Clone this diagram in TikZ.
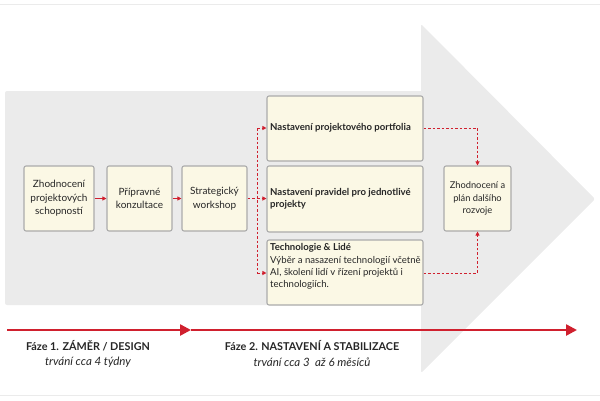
\documentclass[tikz,border=0pt]{standalone}
\usepackage{fontspec}
\setmainfont{Lato}
\usetikzlibrary{arrows.meta}
\definecolor{bggray}{HTML}{EBEBEB}
\definecolor{boxfill}{HTML}{FBF8E5}
\definecolor{boxline}{HTML}{ABABAB}
\definecolor{myred}{HTML}{D0202E}
\definecolor{txt}{HTML}{262626}
\begin{document}
\begin{tikzpicture}[x=1pt,y=-1pt,
  box/.style={draw=boxline, fill=boxfill, line width=1.1pt, rounded corners=2pt, inner sep=0pt, text=txt},
  smallbox/.style={box, minimum width=65pt, minimum height=65pt, align=center, font=\fontsize{10}{13.5}\selectfont},
  widebox/.style={box, minimum width=156pt, minimum height=65pt},
  btext/.style={text=txt, align=left, inner sep=0pt, font=\fontsize{9.6}{12.2}\selectfont},
  solidarrow/.style={draw=myred, line width=1pt, -{Triangle[length=4pt,width=4pt]}},
  dashline/.style={draw=myred, line width=1pt, dash pattern=on 2.5pt off 2pt},
  dasharrow/.style={dashline, -{Triangle[length=4pt,width=4pt]}},
  bigarrow/.style={draw=myred, line width=2.5pt, -{Triangle[length=11pt,width=11pt]}},
  phase/.style={text=txt, inner sep=0pt, font=\fontsize{10.8}{12}\selectfont\bfseries},
  dur/.style={text=txt, inner sep=0pt, font=\fontsize{11.5}{12}\selectfont\itshape}]
\useasboundingbox (0,0) rectangle (600,400);
% frame lines
\draw[black!8, line width=1pt] (0,4) -- (600,4);
\draw[black!8, line width=1pt] (0,395) -- (600,395);
% background arrow
\fill[bggray, rounded corners=2pt] (5,91) rectangle (423,305);
\fill[bggray, rounded corners=2pt] (421,24) -- (595,199) -- (421,373) -- cycle;
% left boxes
\node[smallbox, minimum width=70pt] (b1) at (59,198.5) {Zhodnocení\\projektových\\schopností};
\node[smallbox] (b2) at (139.5,198.5) {Přípravné\\konzultace};
\node[smallbox] (b3) at (214.5,198.5) {Strategický\\workshop};
% wide boxes
\node[widebox] (p1) at (345,128.5) {};
\node[btext, anchor=west] (t1) at (270,128) {\bfseries Nastavení projektového portfolia};
\node[widebox, minimum height=66pt] (p2) at (345,199) {};
\node[btext, anchor=west] (t2) at (270,199) {\bfseries Nastavení pravidel pro jednotlivé\\\bfseries projekty};
\node[widebox] (p3) at (345,272.5) {};
\node[btext, anchor=north west] (t3) at (270,243.5) {\textbf{Technologie \& Lidé}\\Výběr a nasazení technologií včetně\\AI, školení lidí v řízení projektů i\\technologiích.};
% right box
\node[box, minimum width=67pt, minimum height=65pt, align=center, font=\fontsize{9.3}{12.5}\selectfont] (r) at (477.5,198.5) {Zhodnocení a\\plán dalšího\\rozvoje};
% connectors
\draw[solidarrow] (b1) -- (b2);
\draw[solidarrow] (b2) -- (b3);
\coordinate (j) at (257,198.5);
\coordinate (jt) at (257,128);
\coordinate (jb) at (257,273);
\draw[dashline] (b3.east) -- (j);
\draw[dashline] (jt) -- (jb);
\draw[dasharrow] (j) -- (j -| p2.west);
\draw[dasharrow] (jt) -- (jt -| p1.west);
\draw[dasharrow] (jb) -- (jb -| p3.west);
\draw[dasharrow] (jt -| p1.east) -- (jt -| r.north) -- (r.north);
\draw[dasharrow] (jb -| p3.east) -- (jb -| r.south) -- (r.south);
% timeline
\coordinate (a0) at (7,330);
\coordinate (a1) at (191,330);
\coordinate (a2) at (577,330);
\draw[bigarrow] (a0) -- (a1);
\draw[bigarrow] (a1) -- (a2);
\node[phase] (f1) at (88,346) {Fáze 1. ZÁMĚR / DESIGN};
\node[dur] (d1) at (88,362) {trvání cca 4 týdny};
\node[phase] (f2) at (312,346) {Fáze 2. NASTAVENÍ A STABILIZACE};
\node[dur] (d2) at (312,362) {trvání cca 3 \ až 6 měsíců};
\end{tikzpicture}
\end{document}
